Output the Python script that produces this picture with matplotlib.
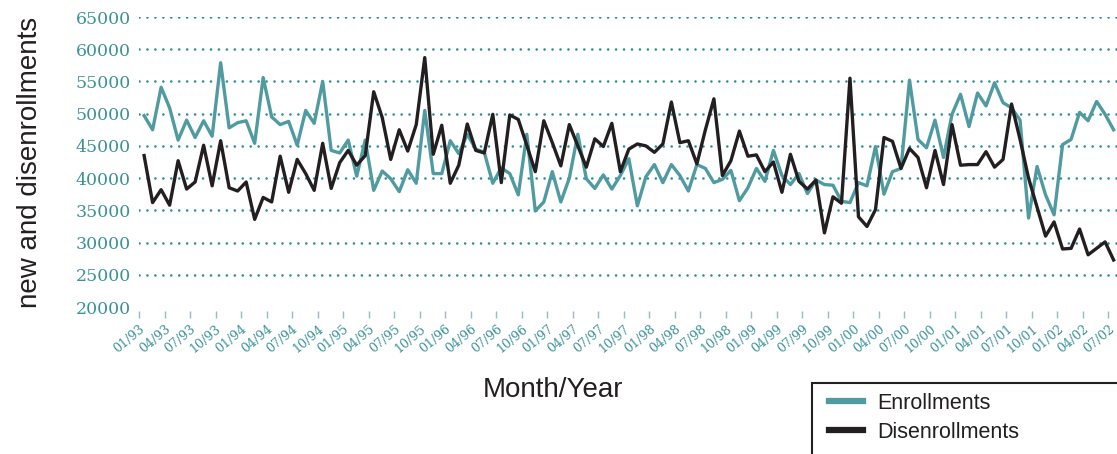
import numpy as np
import pandas as pd
import matplotlib
matplotlib.use('Agg')
import matplotlib.pyplot as plt
from matplotlib.patches import Rectangle

# monthly series, 01/93 - 07/02
months = pd.date_range('1993-01-01', periods=115, freq='MS')

enrollments = [
    49700, 47500, 54100, 50900, 45900, 49000, 46300, 48900, 46500, 57900,
    47800, 48600, 48900, 45400, 55600, 49500, 48300, 48800, 45100,
    50500, 48500, 55000, 44300, 43900, 45900, 40300, 45900, 38100, 41100,
    39900, 37900, 41300, 39200, 50500, 40700, 40700, 45800, 43800,
    46800, 44500, 44000, 39200, 41600, 40700, 37400, 46800, 34900, 36300,
    41000, 36300, 40000, 46800, 39900, 38400, 40500, 38300, 40400,
    43000, 35700, 40200, 42100, 39300, 42100, 40400, 38000, 42100, 41500,
    39300, 39800, 41200, 36500, 38500, 41500, 39500, 44300, 40400,
    39000, 40700, 37600, 39700, 39000, 38900, 36400, 36200, 39300, 38800,
    44900, 37500, 41000, 41500, 55200, 46000, 44700, 49000, 43200,
    49900, 53000, 48000, 53200, 51200, 54800, 51700, 50900, 49000, 33800,
    41800, 37400, 34300, 45200, 46000, 50200, 48900, 51900, 49900, 47500]

disenrollments = [
    43500, 36200, 38200, 35800, 42700, 38300, 39400, 45100, 38800, 45800,
    38500, 38000, 39400, 33600, 37000, 36300, 43400, 37800, 42900,
    40700, 38100, 45400, 38400, 42400, 44300, 42000, 43500, 53400, 49400,
    42900, 47500, 44200, 48300, 58700, 43700, 48200, 39200, 42000,
    48400, 44300, 43900, 49900, 39300, 49800, 49100, 45100, 41000, 48900,
    45500, 41900, 48300, 45000, 41700, 46100, 44900, 48500, 41000,
    44500, 45300, 45000, 44000, 45300, 51800, 45500, 45800, 42200, 47500,
    52300, 40400, 42700, 47300, 43400, 43600, 41000, 42500, 37800,
    43700, 39500, 38300, 39700, 31500, 37100, 36100, 55500, 34000, 32500,
    35100, 46300, 45700, 41500, 44600, 43200, 38500, 44300, 39000,
    48300, 42000, 42100, 42100, 44100, 41700, 42900, 51500, 46000, 40000,
    35500, 31000, 33200, 29000, 29100, 32100, 28100, 29100, 30100, 27300]

tick_labels = [m.strftime('%m/%y') for m in months[::3]]
y_ticks = list(range(20000, 65001, 5000))

teal = '#509ba1'
teal_text = '#3a9298'
grid_teal = '#2e8d94'
dark = '#231f20'

fig = plt.figure(figsize=(11.17, 4.54), dpi=100)
ax = fig.add_axes([139 / 1117, 1 - 307 / 454, 1 - 139 / 1117, (307 - 17) / 454])

# spine position first: it resets the tick objects
for s in ax.spines.values():
    s.set_visible(False)
ax.spines['bottom'].set_position(('outward', 3))

x = np.arange(len(months)) + 0.6
ax.plot(x, enrollments, color=teal, lw=2.4, label='Enrollments', zorder=3)
ax.plot(x, disenrollments, color=dark, lw=2.4, label='Disenrollments', zorder=4)

ax.set_xlim(0, 115)
ax.set_ylim(20000, 65000)
ax.set_yticks(y_ticks)
ax.set_yticklabels([str(v) for v in y_ticks], family='DejaVu Serif')
ax.set_xticks(np.arange(0, len(months), 3))
ax.set_xticklabels(tick_labels, rotation=40, ha='right', va='top',
                   rotation_mode='anchor', family='DejaVu Serif')

ax.yaxis.grid(True, color=grid_teal, lw=1.9, ls=(0, (0.01, 3.0)),
              dash_capstyle='round', zorder=1)
ax.get_ygridlines()[0].set_visible(False)
ax.set_axisbelow(True)

ax.tick_params(axis='y', length=0, pad=6, labelsize=12.5, labelcolor=teal_text)
ax.tick_params(axis='x', length=5, width=1, color='#8cc0c4', direction='out',
               pad=3, labelsize=9, labelcolor=teal_text)

fig.text(30 / 1117, 1 - 162 / 454, 'new and disenrollments', rotation=90,
         ha='center', va='center', fontsize=20, family='Liberation Sans', color=dark)
fig.text(553 / 1117, 1 - 390 / 454, 'Month/Year', ha='center', va='center',
         fontsize=20, family='Liberation Sans', color=dark)

# legend box, cut off by the figure edge
fig.add_artist(Rectangle((812 / 1117, -0.05), 0.35, 1 - 383 / 454 + 0.05,
                         transform=fig.transFigure, fill=False, ec=dark,
                         lw=1.5, clip_on=False))
leg = ax.legend(loc='upper left', bbox_to_anchor=(829 / 1117, 1 - 393 / 454),
                bbox_transform=fig.transFigure, frameon=False,
                prop={'family': 'Liberation Sans', 'size': 15.5},
                handlelength=1.6, handletextpad=0.65, labelspacing=0.35,
                borderpad=0, borderaxespad=0)
for t in leg.get_texts():
    t.set_color(dark)
for h in leg.legend_handles:
    h.set_linewidth(4.5)

fig.savefig('out.png', dpi=100)
